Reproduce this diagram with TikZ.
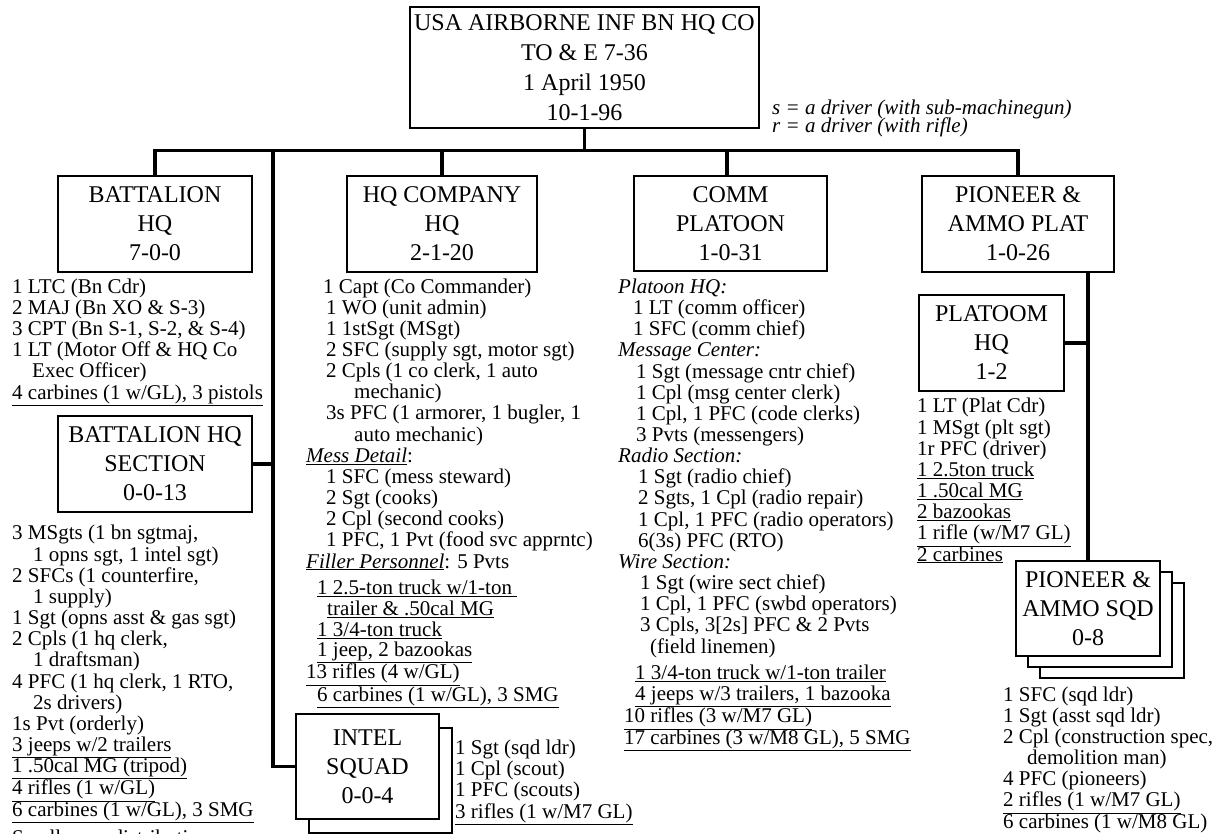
\documentclass[tikz,border=0pt]{standalone}
\usepackage{fontspec}
\setmainfont{Liberation Serif}

\begin{document}
\begin{tikzpicture}[
    x=1pt, y=-1pt,
    unit/.style={
        draw,
        line width=2.4pt,
        fill=white,
        align=center,
        inner sep=0pt,
        font=\fontsize{24}{29}\selectfont
    },
    roster/.style={
        anchor=base west,
        align=left,
        inner sep=0pt,
        font=\fontsize{21}{21.15}\selectfont
    },
    link/.style={line width=3.4pt}
]
\useasboundingbox (0,0) rectangle (1225,834);

% Company HQ
\node[unit, minimum width=349pt, minimum height=121pt, font=\fontsize{24}{30}\selectfont] (top) at (584.5,67.5) {USA AIRBORNE INF BN HQ CO\\TO \& E 7-36\\1 April 1950\\10-1-96};
\node[roster, font={\fontsize{21}{17.5}\selectfont\itshape\lineskiplimit-20pt\relax}] (note) at (772,132.5) {s = a driver (with sub-machinegun)\\r = a driver (with rifle)};

% Sections
\node[unit, minimum width=194pt, minimum height=96pt] (bn) at (155,224) {BATTALION\\HQ\\7-0-0};
\node[unit, minimum width=190pt, minimum height=96pt] (hqco) at (442,224) {HQ COMPANY\\HQ\\2-1-20};
\node[unit, minimum width=193pt, minimum height=95pt] (comm) at (730.5,223.5) {COMM\\PLATOON\\1-0-31};
\node[unit, minimum width=192pt, minimum height=96pt] (pio) at (1018,224) {PIONEER \&\\AMMO PLAT\\1-0-26};

% Sub-units
\node[unit, minimum width=194pt, minimum height=96pt] (bnsec) at (155,464) {BATTALION HQ\\SECTION\\0-0-13};
\node[unit, minimum width=145pt, minimum height=96pt] (plathq) at (991.5,343) {PLATOOM\\HQ\\1-2};
\node[unit, minimum width=143pt, minimum height=105pt] (intel2) at (380.5,780.5) {};
\node[unit, minimum width=143pt, minimum height=105pt] (intel) at (367.5,766.5) {INTEL\\SQUAD\\0-0-4};
\node[unit, minimum width=144pt, minimum height=95pt] (sqd3) at (1112,630.5) {};
\node[unit, minimum width=144pt, minimum height=95pt] (sqd2) at (1100,619.5) {};
\node[unit, minimum width=144pt, minimum height=95pt] (sqd) at (1088,608.5) {PIONEER \&\\AMMO SQD\\0-8};

% Connectors
\draw[link] (bn.north) -- ++(0,-24) coordinate (busL) -| (pio.north);
\draw[link] (top.south) -- (top.south |- busL);
\draw[link] (hqco.north) -- (hqco.north |- busL);
\draw[link] ([xshift=-3.5pt]comm.north) -- ++(0,-24);
\path (busL) ++(118,0) coordinate (trunk);
\draw[link] (trunk) |- (intel.west);
\draw[link] (bnsec.east) -- (bnsec.east -| trunk);
\draw[link] (sqd.north) -- (sqd.north |- pio.south);
\draw[link] (plathq.east) -- (plathq.east -| sqd.north);

% Battalion HQ (lists sit on the baseline of their last line)
\node[roster] (bnlist) at (12,399) {1 LTC (Bn Cdr)\\2 MAJ (Bn XO \& S-3)\\3 CPT (Bn S-1, S-2, \& S-4)\\1 LT (Motor Off \& HQ Co\\\hspace*{20pt}Exec Officer)\\\underline{4 carbines (1 w/GL), 3 pistols}};
\node[roster] (bnseclist) at (12,816) {3 MSgts (1 bn sgtmaj,\\\hspace*{21pt}1 opns sgt, 1 intel sgt)\\2 SFCs (1 counterfire,\\\hspace*{21pt}1 supply)\\1 Sgt (opns asst \& gas sgt)\\2 Cpls (1 hq clerk,\\\hspace*{21pt}1 draftsman)\\4 PFC (1 hq clerk, 1 RTO,\\\hspace*{21pt}2s drivers)\\1s Pvt (orderly)\\\underline{3 jeeps w/2 trailers}\\\underline{1 .50cal MG (tripod)}\\\underline{4 rifles (1 w/GL)}\\\underline{6 carbines (1 w/GL), 3 SMG}};
\node[roster] (smallarms) at (12,844) {Small arms distribution};

% HQ Company
\node[roster] (hqcolist) at (306,568) {\hspace*{17pt}1 Capt (Co Commander)\\\hspace*{20pt}1 WO (unit admin)\\\hspace*{20pt}1 1stSgt (MSgt)\\\hspace*{20pt}2 SFC (supply sgt, motor sgt)\\\hspace*{20pt}2 Cpls (1 co clerk, 1 auto\\\hspace*{48pt}mechanic)\\\hspace*{20pt}3s PFC (1 armorer, 1 bugler, 1\\\hspace*{48pt}auto mechanic)\\\underline{\textit{Mess Detail}}:\\\hspace*{20pt}1 SFC (mess steward)\\\hspace*{20pt}2 Sgt (cooks)\\\hspace*{20pt}2 Cpl (second cooks)\\\hspace*{20pt}1 PFC, 1 Pvt (food svc apprntc)\\\underline{\textit{Filler Personnel}}: 5 Pvts};
\node[roster, font=\fontsize{21}{20.6}\selectfont] (hqcogear) at (306,701) {\hspace*{11pt}\underline{1 2.5-ton truck w/1-ton\ }\\\hspace*{21pt}\underline{trailer \& .50cal MG}\\\hspace*{11pt}\underline{1 3/4-ton truck}\\\hspace*{11pt}\underline{1 jeep, 2 bazookas}\\\underline{13 rifles (4 w/GL)}\\\hspace*{11pt}\underline{6 carbines (1 w/GL), 3 SMG}};
\node[roster] (intellist) at (455,818) {1 Sgt (sqd ldr)\\1 Cpl (scout)\\1 PFC (scouts)\\\underline{3 rifles (1 w/M7 GL)}};

% Comm platoon
\node[roster] (commlist) at (618,653) {\textit{Platoon HQ:}\\\hspace*{15pt}1 LT (comm officer)\\\hspace*{15pt}1 SFC (comm chief)\\\textit{Message Center:}\\\hspace*{18pt}1 Sgt (message cntr chief)\\\hspace*{18pt}1 Cpl (msg center clerk)\\\hspace*{18pt}1 Cpl, 1 PFC (code clerks)\\\hspace*{18pt}3 Pvts (messengers)\\\textit{Radio Section:}\\\hspace*{20pt}1 Sgt (radio chief)\\\hspace*{20pt}2 Sgts, 1 Cpl (radio repair)\\\hspace*{20pt}1 Cpl, 1 PFC (radio operators)\\\hspace*{20pt}6(3s) PFC (RTO)\\\textit{Wire Section:}\\\hspace*{22pt}1 Sgt (wire sect chief)\\\hspace*{22pt}1 Cpl, 1 PFC (swbd operators)\\\hspace*{22pt}3 Cpls, 3[2s] PFC \& 2 Pvts\\\hspace*{32pt}(field linemen)};
\node[roster] (commgear) at (624,744) {\hspace*{11pt}\underline{1 3/4-ton truck w/1-ton trailer}\\\hspace*{11pt}\underline{4 jeeps w/3 trailers, 1 bazooka}\\\underline{10 rifles (3 w/M7 GL)}\\\underline{17 carbines (3 w/M8 GL), 5 SMG}};

% Pioneer & ammo platoon
\node[roster] (plathqlist) at (917,561) {1 LT (Plat Cdr)\\1 MSgt (plt sgt)\\1r PFC (driver)\\\underline{1 2.5ton truck}\\\underline{1 .50cal MG}\\\underline{2 bazookas}\\\underline{1 rifle (w/M7 GL)}\\\underline{2 carbines}};
\node[roster] (sqdlist) at (1003,828) {1 SFC (sqd ldr)\\1 Sgt (asst sqd ldr)\\2 Cpl (construction spec,\\\hspace*{24pt}demolition man)\\4 PFC (pioneers)\\\underline{2 rifles (1 w/M7 GL)}\\\underline{6 carbines (1 w/M8 GL)}};

\end{tikzpicture}
\end{document}
